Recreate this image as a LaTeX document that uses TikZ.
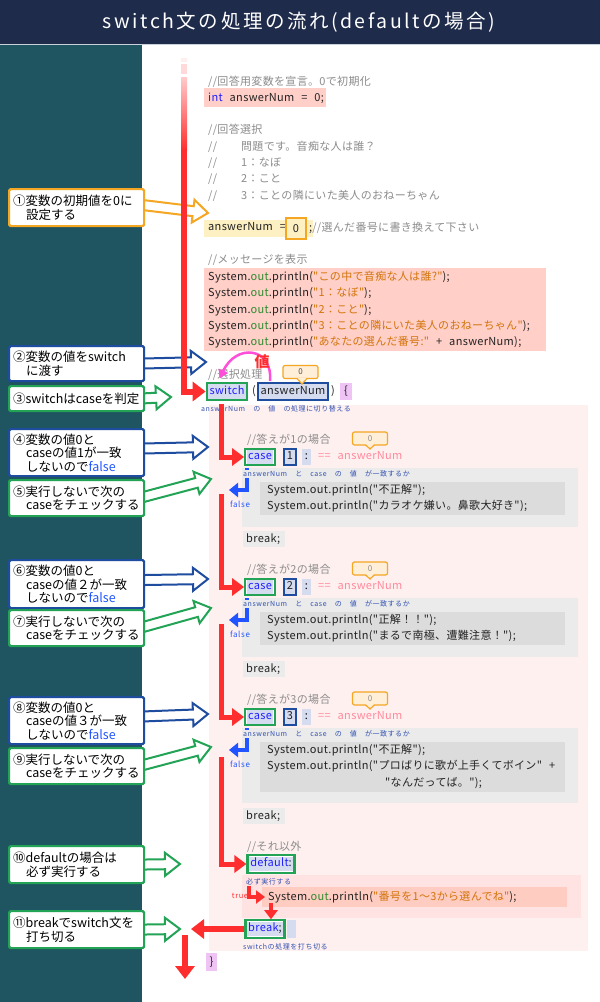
\documentclass[tikz,border=0pt]{standalone}
\usepackage{fontspec}
\setmainfont{Noto Sans CJK JP}
\newfontfamily\jp{Noto Sans CJK JP}
\newfontfamily\cd[LetterSpace=3,WordSpace=2.5]{Noto Sans CJK JP}
\newfontfamily\sm[LetterSpace=8]{Noto Sans CJK JP}
\newfontfamily\ttl[LetterSpace=13]{Noto Sans CJK JP}
\usetikzlibrary{calc,arrows.meta}
\pgfdeclarelayer{bgl}
\pgfdeclarelayer{arl}
\pgfsetlayers{bgl,arl,main}
\definecolor{cNavy}{HTML}{1E2B4A}
\definecolor{cTeal}{HTML}{1F5560}
\definecolor{cLine}{HTML}{C9D2DC}
\definecolor{fred}{HTML}{FF2E2E}
\definecolor{cPink}{HTML}{FFCFC8}
\definecolor{cYel}{HTML}{FDF0C2}
\definecolor{cOrg}{HTML}{F5A623}
\definecolor{cBub}{HTML}{FFEFD8}
\definecolor{cBlueF}{HTML}{1E4C9E}
\definecolor{cGreenF}{HTML}{22A356}
\definecolor{cBg}{HTML}{D5DCF0}
\definecolor{cPur}{HTML}{EFC4F5}
\definecolor{cMag}{HTML}{FF4FD8}
\definecolor{cBigPink}{HTML}{FFF0F0}
\definecolor{cGray1}{HTML}{EBEBEB}
\definecolor{cGray2}{HTML}{DCDCDC}
\definecolor{cDefPink}{HTML}{FFE2E2}
\definecolor{cSalmon}{HTML}{FFCCC2}
\definecolor{cGray}{HTML}{8C8C8C}
\definecolor{cBlack}{HTML}{222222}
\definecolor{kw}{HTML}{1F1FFF}
\definecolor{outg}{HTML}{2E8B2E}
\definecolor{strc}{HTML}{D2740A}
\definecolor{sblue}{HTML}{3050B0}
\definecolor{eqpink}{HTML}{FF8A9C}
\definecolor{fblue}{HTML}{2255FF}
\newcommand{\bgx}[1]{{\setlength{\fboxsep}{1.5pt}\colorbox{cBg}{\rule[-3pt]{0pt}{11pt}#1}}}
\newcommand{\sop}{System.\textcolor{outg}{out}.println}
\newcommand{\harrow}[3]{%
  \coordinate (hA) at #2;
  \coordinate (hT) at #3;
  \coordinate (hH) at ($(hT)!15pt!(hA)$);
  \filldraw[fill=white,draw=#1,line width=2pt,line join=miter]
    ($(hA)!5pt!90:(hT)$) -- ($(hH)!5pt!-90:(hA)$) -- ($(hH)!11.5pt!-90:(hA)$) -- (hT)
    -- ($(hH)!11.5pt!90:(hA)$) -- ($(hH)!5pt!90:(hA)$) -- ($(hA)!5pt!-90:(hT)$) -- cycle;}
\begin{document}
\begin{tikzpicture}[x=1pt,y=-1pt,
  code/.style={font=\cd\fontsize{11}{13}\selectfont, text=cBlack, inner sep=0pt, anchor=west,
    execute at begin node={\rule[-2.5pt]{0pt}{10.5pt}}},
  cmt/.style={code, text=cGray},
  small/.style={font=\sm\fontsize{7}{8}\selectfont, text=sblue, inner sep=0pt, anchor=west},
  cbox/.style={draw=#1, line width=2.2pt, fill=white, rounded corners=1.5pt, text width=127pt,
    align=left, inner xsep=4pt, inner ysep=0pt, anchor=north west, text=black,
    font=\jp\fontsize{12.5}{13.5}\selectfont},
  kbox/.style={draw=#1, line width=2.2pt, fill=white, inner sep=1.3pt, font=\cd\fontsize{11}{13}\selectfont, text=cBlack},
  bubble/.style={draw=cOrg, fill=cBub, line width=1.2pt, rounded corners=2pt, minimum width=35pt,
    minimum height=13pt, inner sep=0pt, font=\jp\fontsize{8}{9}\selectfont, text=cGray},
  flow/.style={draw=fred, line width=6pt, line join=miter, -{Triangle[length=13pt,width=19pt]}},
  cflow/.style={draw=fred, line width=5pt, line join=miter, -{Triangle[length=12pt,width=17pt]}},
  sflow/.style={draw=fred, line width=4pt, line join=miter, -{Triangle[length=9pt,width=13pt]}},
  fblu/.style={draw=fblue, line width=4pt, line join=miter, -{Triangle[length=9pt,width=14pt]}}
]
\useasboundingbox (0,0) rectangle (600,1002);
\begin{pgfonlayer}{bgl}
  \fill[cNavy] (0,0) rectangle (600,44);
  \fill[cTeal] (0,44) rectangle (142,1002);
  \fill[white] (142,44) rectangle (600,1002);
  \draw[cLine, line width=1pt] (0,44.5) -- (600,44.5);
  \fill[cPink] (204,88) rectangle (326,107);
  \fill[cYel] (204,220) rectangle (313,237);
  \fill[cPink] (204,268) rectangle (546,351);
  \fill[cBigPink] (209,405) rectangle (588,951);
  \fill[cGray1] (242,468) rectangle (578,527);
  \fill[cGray2] (260,482) rectangle (565,515);
  \fill[cGray1] (243,531) rectangle (285,547);
  \fill[cGray1] (242,598) rectangle (578,657);
  \fill[cGray2] (260,612) rectangle (565,645);
  \fill[cGray1] (243,661) rectangle (285,677);
  \fill[cGray1] (242,728) rectangle (578,803);
  \fill[cGray2] (260,742) rectangle (565,792);
  \fill[cGray1] (243,808) rectangle (285,824);
  \fill[cDefPink] (242,875) rectangle (581,918);
  \fill[cSalmon] (262,887) rectangle (567,907);
  \fill[cBg] (287,920) rectangle (296,938);
  \fill[cPur] (340,383) rectangle (352,400);
  \fill[cPur] (206,953) rectangle (217,971);
  % faded top of the flow line
  \fill[fred!8] (181,58) rectangle (187,62);
  \fill[fred!18] (181,64) rectangle (187,74);
  \shade[top color=fred!25, bottom color=fred] (181,77) rectangle (187,150);
\end{pgfonlayer}

% title
\node[font=\ttl\fontsize{19.5}{22}\selectfont, text=white, inner sep=0pt] (title) at (299,22) {switch文の処理の流れ(defaultの場合)};

% top code
\node[cmt] (cm1) at (208,82) {//回答用変数を宣言。0で初期化};
\node[code] (ln1) at (208,98) {\textcolor{kw}{int} answerNum = 0;};
\node[cmt] (cm2) at (208,130) {//回答選択};
\node[cmt] (cm3) at (208,147) {//\hspace*{24pt}問題です。音痴な人は誰？};
\node[cmt] (cm4) at (208,163) {//\hspace*{24pt}1：なぼ};
\node[cmt] (cm5) at (208,179) {//\hspace*{24pt}2：こと};
\node[cmt] (cm6) at (208,196) {//\hspace*{24pt}3：ことの隣にいた美人のおねーちゃん};
\node[code] (an1) at (208,228) {answerNum =};
\node[draw=cOrg, line width=2.2pt, fill=cYel, minimum width=20pt, minimum height=21pt, inner sep=0pt,
  font=\cd\fontsize{11}{13}\selectfont, text=cBlack] (zero) at (296,228.5) {0};
\node[code] (an2) at (309,228) {;\textcolor{cGray}{//選んだ番号に書き換えて下さい}};
\node[cmt] (cm7) at (208,260) {//メッセージを表示};
\node[code] (p1) at (208,277) {\sop(\textcolor{strc}{"この中で音痴な人は誰?"});};
\node[code] (p2) at (208,293) {\sop(\textcolor{strc}{"1：なぼ"});};
\node[code] (p3) at (208,310) {\sop(\textcolor{strc}{"2：こと"});};
\node[code] (p4) at (208,326) {\sop(\textcolor{strc}{"3：ことの隣にいた美人のおねーちゃん"});};
\node[code] (p5) at (208,342) {\sop(\textcolor{strc}{"あなたの選んだ番号:"} + answerNum);};
\node[cmt] (cm8) at (208,375) {//選択処理};

% switch row
\node[kbox=cGreenF] (sw) at (227,391.5) {\bgx{\textcolor{kw}{switch}}};
\node[code] (lp) at (252,391) {(};
\node[kbox=cBlueF] (swarg) at (293,391.5) {\bgx{answerNum}};
\node[code] (rp) at (331,391) {)};
\node[code, anchor=center] (lbrace) at (346,391) {\{};
\node[bubble, text=black!70] (b0) at (300.5,372) {0};
\fill[cBub] (297,378.2) -- (302,384) -- (307,378.2) -- cycle;
\draw[cOrg, line width=1.2pt] (297,378.5) -- (302,384) -- (307,378.5);
\draw[cMag, line width=2.5pt, -{Triangle[length=8pt,width=10pt]}] (270,381) .. controls (273,347) and (236,343) .. (220,378);
\node[font=\jp\bfseries\fontsize{15}{16}\selectfont, text=fred, inner sep=0pt] (val) at (262,362) {値};
\node[small] (s0) at (201,409) {answerNum　の　値　の処理に切り替える};

% main flow into switch
\draw[flow] (184,149) |- (sw.west);

% case rows
\foreach \k/\y in {1/457,2/587,3/717}{
  \node[cmt] (cc\k) at (247,\y-17) {//答えが\k{}の場合};
  \node[bubble] (b\k) at (370,\y-18.5) {0};
  \fill[cBub] (365.5,\y-12.8) -- (370,\y-8) -- (374.5,\y-12.8) -- cycle;
  \draw[cOrg, line width=1.2pt] (365.5,\y-12.2) -- (370,\y-8) -- (374.5,\y-12.2);
  \node[kbox=cGreenF] (case\k) at (260,\y) {\bgx{\textcolor{kw}{case}}};
  \node[kbox=cBlueF] (num\k) at (290,\y) {\bgx{\k}};
  \node[fill=cBg, inner sep=1.5pt, minimum width=9pt, minimum height=16pt, font=\cd\fontsize{11}{13}\selectfont] (col\k) at (306.5,\y) {:};
  \node[code, text=eqpink] (eq\k) at (318,\y) {== answerNum};
  \draw[fblue, line width=4pt] (247,\y+11) -- (247,\y+13);
  \node[small] (s\k) at (243,\y+17) {answerNum　と　case　の　値　が一致するか};
  \coordinate (fa\k) at (229,\y+33);
  \draw[fblu] (247,\y+21) |- (fa\k);
  \node[font=\sm\fontsize{8}{9}\selectfont, text=fblue, inner sep=0pt] (f\k) at (240,\y+47) {false};
}
\draw[cflow] (221,404) |- (case1.west);
\draw[cflow] (221,494) |- (case2.west);
\draw[cflow] (221,624) |- (case3.west);

% case bodies
\node[code] (c1a) at (267,490) {System.out.println("不正解");};
\node[code] (c1b) at (267,506) {System.out.println("カラオケ嫌い。鼻歌大好き");};
\node[code] (br1) at (246,539) {break;};
\node[code] (c2a) at (267,620) {System.out.println("正解！！");};
\node[code] (c2b) at (267,636) {System.out.println("まるで南極、遭難注意！");};
\node[code] (br2) at (246,669) {break;};
\node[code] (c3a) at (267,750) {System.out.println("不正解");};
\node[code] (c3b) at (267,766) {System.out.println("プロばりに歌が上手くてボイン" +};
\node[code] (c3c) at (385,783) {"なんだってば。");};
\node[code] (br3) at (246,816) {break;};

% default
\node[cmt] (cc4) at (247,847) {//それ以外};
\node[kbox=cGreenF] (dflt) at (271,864) {\bgx{\textcolor{kw}{default}:}};
\draw[cflow] (221,757) |- (dflt.west);
\node[small] (s4) at (246,882) {必ず実行する};
\node[code] (pd) at (268,897) {\sop(\textcolor{strc}{"番号を1～3から選んでね"});};
\node[font=\sm\fontsize{7.5}{8}\selectfont, text=fred, inner sep=0pt] (tru) at (240,896) {true};
\coordinate (tr) at (265,897);
\draw[sflow] (249,886) |- (tr);
\node[kbox=cGreenF] (brk) at (265,929) {\bgx{\textcolor{kw}{break};}};
\draw[sflow] (271,903) -- (brk.north -| 271,0);
\node[small] (s5) at (243,947) {switchの処理を打ち切る};
\node[code, anchor=center] (rbrace) at (211.5,962) {\}};
\coordinate (ex) at (191,929);
\coordinate (endp) at (185,979);
\draw[flow] (brk.west) -- (ex);
\draw[flow] (185,935) -- (endp);

% callouts
\node[cbox=cOrg, minimum height=37pt] (c1) at (8,188) {①変数の初期値を0に\\\hspace*{13pt}設定する};
\node[cbox=cBlueF, minimum height=35pt] (c2) at (8,345) {②変数の値をswitch\\\hspace*{13pt}に渡す};
\node[cbox=cGreenF, minimum height=25pt] (c3) at (8,385) {③switchはcaseを判定};
\node[cbox=cBlueF, minimum height=47pt] (c4) at (8,428) {④変数の値0と\\\hspace*{13pt}caseの値1が一致\\\hspace*{13pt}しないので\textcolor{fblue}{false}};
\node[cbox=cGreenF, minimum height=36pt] (c5) at (8,479) {⑤実行しないで次の\\\hspace*{13pt}caseをチェックする};
\node[cbox=cBlueF, minimum height=48pt] (c6) at (8,559) {⑥変数の値0と\\\hspace*{13pt}caseの値２が一致\\\hspace*{13pt}しないので\textcolor{fblue}{false}};
\node[cbox=cGreenF, minimum height=36pt] (c7) at (8,609) {⑦実行しないで次の\\\hspace*{13pt}caseをチェックする};
\node[cbox=cBlueF, minimum height=47pt] (c8) at (8,696) {⑧変数の値0と\\\hspace*{13pt}caseの値３が一致\\\hspace*{13pt}しないので\textcolor{fblue}{false}};
\node[cbox=cGreenF, minimum height=36pt] (c9) at (8,747) {⑨実行しないで次の\\\hspace*{13pt}caseをチェックする};
\node[cbox=cGreenF, minimum height=37pt] (c10) at (8,845) {⑩defaultの場合は\\\hspace*{13pt}必ず実行する};
\node[cbox=cGreenF, minimum height=37pt] (c11) at (8,910) {⑪breakでswitch文を\\\hspace*{13pt}打ち切る};

\begin{pgfonlayer}{arl}
  \harrow{cOrg}{($(c1.east)+(-6,-3)$)}{(208,213)}
  \harrow{cBlueF}{($(c2.east)+(-6,0)$)}{(206,362)}
  \harrow{cGreenF}{($(c3.east)+(-6,0)$)}{(171,397)}
  \harrow{cBlueF}{($(c4.east)+(-6,-4)$)}{(208,447)}
  \harrow{cGreenF}{($(c5.east)+(-6,0)$)}{(211,479)}
  \harrow{cBlueF}{($(c6.east)+(-6,-4)$)}{(208,579)}
  \harrow{cGreenF}{($(c7.east)+(-6,0)$)}{(211,608)}
  \harrow{cBlueF}{($(c8.east)+(-6,-4)$)}{(208,714)}
  \harrow{cGreenF}{($(c9.east)+(-6,0)$)}{(211,747)}
  \harrow{cGreenF}{($(c10.east)+(-6,0)$)}{(180,864)}
  \harrow{cGreenF}{($(c11.east)+(-6,0)$)}{(180,929)}
\end{pgfonlayer}
\end{tikzpicture}
\end{document}
